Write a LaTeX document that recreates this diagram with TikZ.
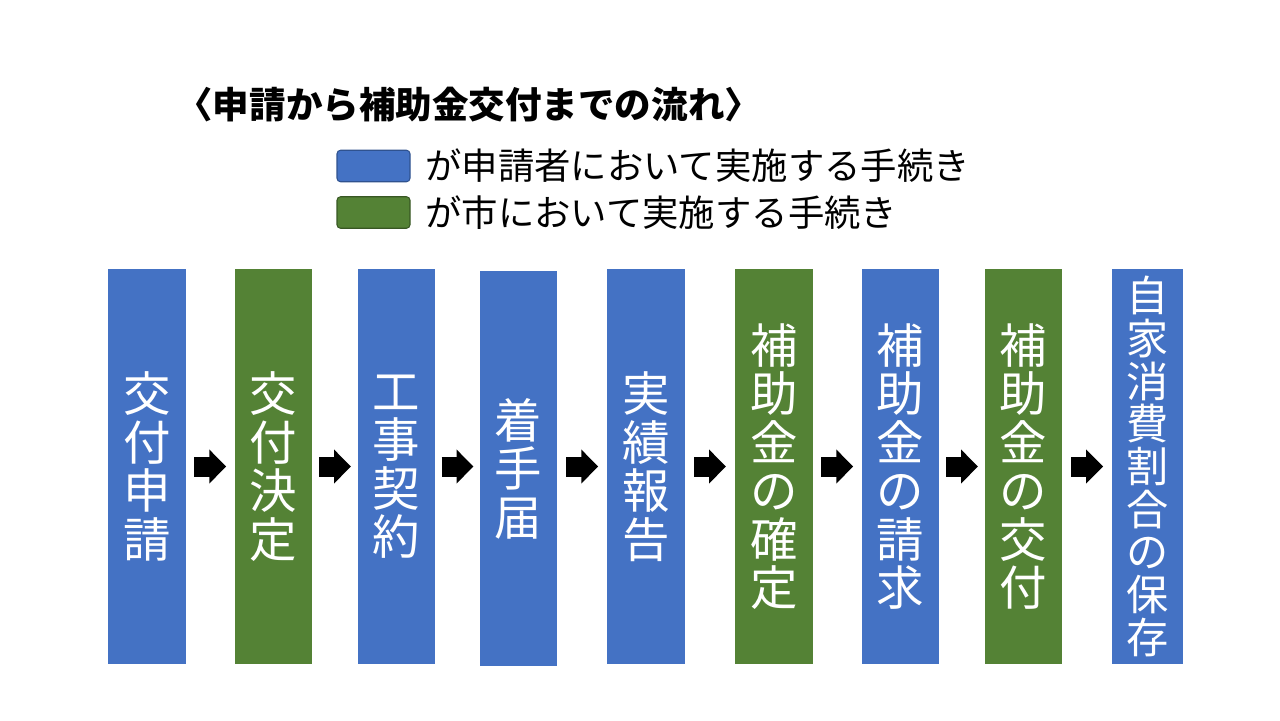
\documentclass[tikz,border=0pt]{standalone}
\usepackage{fontspec}
\newfontfamily\jpfont{Noto Sans CJK JP}
\usepackage{xcolor}
\usetikzlibrary{arrows.meta, positioning, calc}

\definecolor{applicant}{HTML}{4472C4}
\definecolor{applicantline}{HTML}{2F528F}
\definecolor{city}{HTML}{548235}
\definecolor{cityline}{HTML}{385723}

\begin{document}
\begin{tikzpicture}[
    jp/.style={font=\jpfont},
    stage/.style={jp, minimum width=1.55cm, minimum height=7.9cm, inner sep=0pt, align=center,
        text=white, font=\jpfont\fontsize{27}{27.6}\selectfont},
    applicant/.style={stage, fill=applicant},
    city/.style={stage, fill=city},
    legendbox/.style={draw, rounded corners=2pt, line width=0.6pt, minimum width=1.46cm, minimum height=0.63cm, inner sep=0pt},
    legendtext/.style={anchor=west, inner sep=0pt, font=\jpfont\fontsize{20.7}{22}\selectfont},
    blockarr/.style={-{Triangle[length=0.34cm, width=0.66cm]}, line width=0.4cm},
]
\useasboundingbox (0,0) rectangle (25.6,-14.4);

% Title
\node[anchor=west, inner sep=0pt, font=\jpfont\bfseries\fontsize{20.8}{22}\selectfont] (title) at (3.52,-2.1)
    {〈申請から補助金交付までの流れ〉};

% Legend
\node[legendbox, fill=applicant, draw=applicantline] (keyapp) at (7.47,-3.32) {};
\node[legendbox, fill=city, draw=cityline] (keycity) at (7.47,-4.25) {};
\node[legendtext] (keyapptext) at (8.5,-3.32) {が申請者において実施する手続き};
\node[legendtext] (keycitytext) at (8.5,-4.25) {が市において実施する手続き};

% Stages
\node[applicant] (s1) at (2.94,-9.33) {交\\付\\申\\請};
\node[city] (s2) at (5.47,-9.33) {交\\付\\決\\定};
\node[applicant] (s3) at (7.93,-9.33) {工\\事\\契\\約};
\node[applicant] (s4) at (10.37,-9.37) {着\\手\\届};
\node[applicant] (s5) at (12.92,-9.33) {実\\績\\報\\告};
\node[city] (s6) at (15.48,-9.33) {補\\助\\金\\の\\確\\定};
\node[applicant] (s7) at (18.01,-9.33) {補\\助\\金\\の\\請\\求};
\node[city] (s8) at (20.47,-9.33) {補\\助\\金\\の\\交\\付};
\node[applicant, minimum width=1.42cm, font=\jpfont\fontsize{24}{24.3}\selectfont] (s9) at (22.95,-9.33)
    {自\\家\\消\\費\\割\\合\\の\\保\\存};

% Arrows between stages
\foreach \a/\b in {s1/s2, s2/s3, s3/s4, s4/s5, s5/s6, s6/s7, s7/s8, s8/s9} {
    \coordinate (mid) at ($(\a.east |- 0,-9.33)!0.5!(\b.west |- 0,-9.33)$);
    \draw[blockarr] ([xshift=-0.32cm]mid) -- ([xshift=0.32cm]mid);
}

\end{tikzpicture}
\end{document}
